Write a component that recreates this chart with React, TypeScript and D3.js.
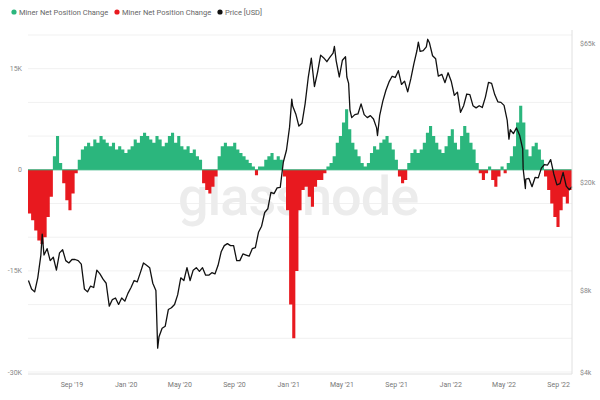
import React from "react";
import * as d3 from "d3";

const W = 600;
const H = 400;

const legendLabels = ["Miner Net Position Change", "Miner Net Position Change", "Price [USD]"];
const legendColors = ["#2bb67d", "#e8191f", "#111111"];

const leftTicks = [15000, 0, -15000, -30000];
const leftTickLabels = ["15K", "0", "-15K", "-30K"];
const rightTicks = [65000, 20000, 8000, 4000];
const rightTickLabels = ["$65k", "$20k", "$8k", "$4k"];
const xTickDates = ["2019-09-01", "2020-01-01", "2020-05-01", "2020-09-01", "2021-01-01", "2021-05-01", "2021-09-01", "2022-01-01", "2022-05-01", "2022-09-01"];
const xTickLabels = ["Sep '19", "Jan '20", "May '20", "Sep '20", "Jan '21", "May '21", "Sep '21", "Jan '22", "May '22", "Sep '22"];

const netStart = "2019-05-25";
// weekly miner net position change (BTC)
const netValues = [
  -6500, -7500, -9000, -10500, -11000, -10000, -7000, -4000, 2000, 5000,
  1000, -2000, -4500, -6000, -3500, -500, 1500, 3000, 3500, 4000,
  3500, 4500, 4000, 5000, 4500, 4000, 3500, 4000, 3000, 3500,
  3000, 2500, 3000, 3500, 4500, 4000, 5000, 5500, 5000, 4500,
  4000, 5000, 4500, 3500, 4000, 5000, 5500, 4000, 5000, 3500,
  3000, 3500, 2500, 3000, 2000, 1500, -2000, -3000, -3500, -2500,
  -1000, 2000, 3500, 4000, 3500, 3500, 4000, 3000, 2500, 2000,
  1500, 1000, 500, -800, 500, 500, 1500, 2000, 2500, 1500,
  2000, 1500, -1000, -6000, -20000, -25000, -15000, -6000, -3000, -2500,
  -4000, -5500, -2500, -1500, -1500, -500, 500, 1000, 2000, 4000,
  5000, 7000, 9000, 6000, 4000, 3000, 2000, 1000, 500, 1000,
  2500, 3500, 3000, 4000, 4500, 5000, 4000, 3000, 1500, -1000,
  -2000, -1500, 1000, 2500, 3000, 2500, 3000, 4000, 5500, 6500,
  5000, 4000, 3000, 2500, 3500, 5000, 6000, 4000, 3000, 5000,
  6500, 5500, 4000, 3000, 1000, -500, -1500, -500, 500, -1500,
  -2500, -1000, 500, -500, 1000, 2000, 3500, 7000, 9500, 7000,
  3000, 2000, 3500, 4000, 3000, 1500, -1000, -3000, -5000, -7000,
  -8500, -6000, -4000, -5000, -3000, -2000,
];

const priceDates = [
  "2019-05-26","2019-06-02","2019-06-09","2019-06-16","2019-06-23","2019-06-26","2019-06-30","2019-07-07","2019-07-14","2019-07-21","2019-07-28",
  "2019-08-04","2019-08-11","2019-08-18","2019-08-25","2019-09-01","2019-09-08","2019-09-15","2019-09-22","2019-09-29","2019-10-06","2019-10-13",
  "2019-10-20","2019-10-27","2019-11-03","2019-11-10","2019-11-17","2019-11-24","2019-12-01","2019-12-08","2019-12-15","2019-12-22","2019-12-29",
  "2020-01-05","2020-01-12","2020-01-19","2020-01-26","2020-02-02","2020-02-09","2020-02-16","2020-02-23","2020-03-01","2020-03-08","2020-03-12",
  "2020-03-15","2020-03-22","2020-03-29","2020-04-05","2020-04-12","2020-04-19","2020-04-26","2020-05-03","2020-05-10","2020-05-17","2020-05-24",
  "2020-05-31","2020-06-07","2020-06-14","2020-06-21","2020-06-28","2020-07-05","2020-07-12","2020-07-19","2020-07-26","2020-08-02","2020-08-09",
  "2020-08-16","2020-08-23","2020-08-30","2020-09-06","2020-09-13","2020-09-20","2020-09-27","2020-10-04","2020-10-11","2020-10-18","2020-10-25",
  "2020-11-01","2020-11-08","2020-11-15","2020-11-22","2020-11-29","2020-12-06","2020-12-13","2020-12-20","2020-12-27","2021-01-03","2021-01-08",
  "2021-01-10","2021-01-17","2021-01-24","2021-01-31","2021-02-07","2021-02-14","2021-02-21","2021-02-28","2021-03-07","2021-03-14","2021-03-21",
  "2021-03-28","2021-04-04","2021-04-11","2021-04-14","2021-04-18","2021-04-25","2021-05-02","2021-05-09","2021-05-12","2021-05-16","2021-05-19",
  "2021-05-23","2021-05-30","2021-06-06","2021-06-13","2021-06-20","2021-06-27","2021-07-04","2021-07-11","2021-07-18","2021-07-20","2021-07-25",
  "2021-08-01","2021-08-08","2021-08-15","2021-08-22","2021-08-29","2021-09-05","2021-09-12","2021-09-19","2021-09-26","2021-10-03","2021-10-10",
  "2021-10-17","2021-10-20","2021-10-24","2021-10-31","2021-11-07","2021-11-10","2021-11-14","2021-11-21","2021-11-28","2021-12-04","2021-12-12",
  "2021-12-19","2021-12-26","2022-01-02","2022-01-09","2022-01-16","2022-01-23","2022-01-30","2022-02-06","2022-02-13","2022-02-20","2022-02-27",
  "2022-03-06","2022-03-13","2022-03-20","2022-03-27","2022-04-03","2022-04-10","2022-04-17","2022-04-24","2022-05-01","2022-05-08","2022-05-12",
  "2022-05-15","2022-05-22","2022-05-29","2022-06-05","2022-06-12","2022-06-13","2022-06-18","2022-06-19","2022-06-26","2022-07-03","2022-07-10",
  "2022-07-17","2022-07-24","2022-07-31","2022-08-07","2022-08-14","2022-08-21","2022-08-28","2022-09-04","2022-09-11","2022-09-18","2022-09-25",
  "2022-10-01",
];
const priceValues = [
  8700, 8100, 7900, 8900, 10800, 12900, 10800, 11400, 10300, 10600, 9500,
  11000, 11300, 10300, 10100, 10400, 10400, 10300, 10000, 8100, 7900, 8300,
  8200, 9500, 9200, 8800, 8500, 7000, 7400, 7500, 7100, 7500, 7300,
  7800, 8200, 8700, 8600, 9300, 10100, 9900, 9700, 8500, 8000, 4900,
  5400, 5800, 5900, 6800, 6900, 7100, 7700, 8900, 8700, 9700, 8700,
  9500, 9700, 9400, 9700, 9100, 9100, 9300, 9200, 9900, 11100, 11700,
  11900, 11700, 11700, 10300, 10300, 10900, 10800, 10700, 11400, 11500, 13100,
  13800, 15500, 16000, 18400, 18200, 19100, 19200, 23800, 26300, 32000, 40600,
  38300, 35800, 32300, 33100, 39000, 48700, 57500, 45200, 51000, 59000, 57600,
  55800, 58000, 60000, 63500, 56200, 49000, 56500, 58200, 49000, 46400, 37000,
  34700, 35600, 35800, 39000, 35600, 34700, 35300, 34300, 31800, 29800, 35400,
  39900, 43800, 47000, 49300, 48800, 51700, 46000, 47300, 43200, 48200, 54900,
  61500, 65900, 60900, 61300, 63300, 67500, 65500, 58700, 57200, 49400, 50100,
  46700, 50800, 47300, 41900, 43100, 36300, 38400, 42400, 42200, 38400, 37700,
  38400, 37800, 41300, 46800, 46400, 42200, 39700, 39500, 38500, 34000, 28900,
  31300, 30300, 31800, 29900, 26600, 22500, 19000, 20600, 20700, 19300, 20900,
  20800, 22600, 23300, 23200, 24300, 21500, 19600, 19800, 21800, 19400, 18800,
  19300,
];

const M = { left: 28, right: 572, top: 35, bottom: 374 };

type NetPt = { d: Date; v: number };

export default function App() {
  const parse = d3.timeParse("%Y-%m-%d");
  const start = parse(netStart) as Date;
  const end = parse("2022-10-01") as Date;
  const netData: NetPt[] = netValues.map((v, i) => ({ d: d3.timeDay.offset(start, 7 * i), v }));
  const netStep: NetPt[] = [...netData, { d: end, v: netValues[netValues.length - 1] }];

  const x = d3.scaleTime().domain([start, end]).range([M.left, M.right]);
  const yL = d3.scaleLinear().domain([-30000, 20000]).range([M.bottom - 2, M.top]);
  const yR = d3.scaleLog().domain([4000, 70000]).range([M.bottom - 2, M.top]);

  const priceData = priceDates.map((d, i) => ({ d: parse(d) as Date, v: priceValues[i] }));
  const line = d3
    .line<{ d: Date; v: number }>()
    .x((p) => x(p.d))
    .y((p) => yR(p.v))
    .curve(d3.curveLinear);

  const y0 = yL(0);
  const posArea = d3
    .area<NetPt>()
    .x((p) => x(p.d))
    .y0(y0)
    .y1((p) => yL(Math.max(0, p.v)))
    .curve(d3.curveStepAfter);
  const negArea = d3
    .area<NetPt>()
    .x((p) => x(p.d))
    .y0(y0)
    .y1((p) => yL(Math.min(0, p.v)))
    .curve(d3.curveStepAfter);

  const gridVals = d3.range(-30000, 20001, 5000);

  return (
    <svg width={W} height={H} style={{ position: "absolute", left: 0, top: 0, background: "#fff" }} fontFamily="Roboto, sans-serif">
      <rect x={0} y={0} width={W} height={H} fill="#fff" />
      {/* legend */}
      {legendLabels.map((l, i) => {
        const lx = 14 + i * 103;
        return (
          <g key={i}>
            <circle cx={lx} cy={12} r={2.6} fill={legendColors[i]} />
            <text x={lx + 5} y={15} fontSize={7.5} fill="#666">{l}</text>
          </g>
        );
      })}
      {/* grid */}
      {gridVals.map((v) => (
        <line key={v} x1={M.left} x2={M.right} y1={yL(v)} y2={yL(v)} stroke="#f1f1f1" strokeWidth={1} />
      ))}
      {/* watermark */}
      <text x={298} y={215} textAnchor="middle" fontSize={54} fill="#ececec" fontWeight={500} letterSpacing={-1}>glassnode</text>
      {/* net position areas */}
      <path d={posArea(netStep) || ""} fill={legendColors[0]} />
      <path d={negArea(netStep) || ""} fill={legendColors[1]} />
      <line x1={M.left} x2={M.right} y1={y0} y2={y0} stroke="#2bb67d" strokeWidth={1} />
      {/* price */}
      <path d={line(priceData) || ""} fill="none" stroke="#111" strokeWidth={1.3} strokeLinejoin="round" />
      {/* frame */}
      <line x1={M.right} x2={M.right} y1={M.top - 5} y2={M.bottom} stroke="#e0e0e0" />
      <line x1={M.left} x2={M.right} y1={M.bottom} y2={M.bottom} stroke="#e0e0e0" />
      {/* left axis */}
      {leftTicks.map((v, i) => (
        <text key={v} x={22} y={yL(v) + 2.5} textAnchor="end" fontSize={7} fill="#888">{leftTickLabels[i]}</text>
      ))}
      {/* right axis */}
      {rightTicks.map((v, i) => (
        <text key={v} x={580} y={yR(v) + 2.5} fontSize={7} fill="#888">{rightTickLabels[i]}</text>
      ))}
      {/* x axis */}
      {xTickDates.map((d, i) => (
        <text key={d} x={x(parse(d) as Date)} y={387} textAnchor="middle" fontSize={7} fill="#777">{xTickLabels[i]}</text>
      ))}
    </svg>
  );
}
